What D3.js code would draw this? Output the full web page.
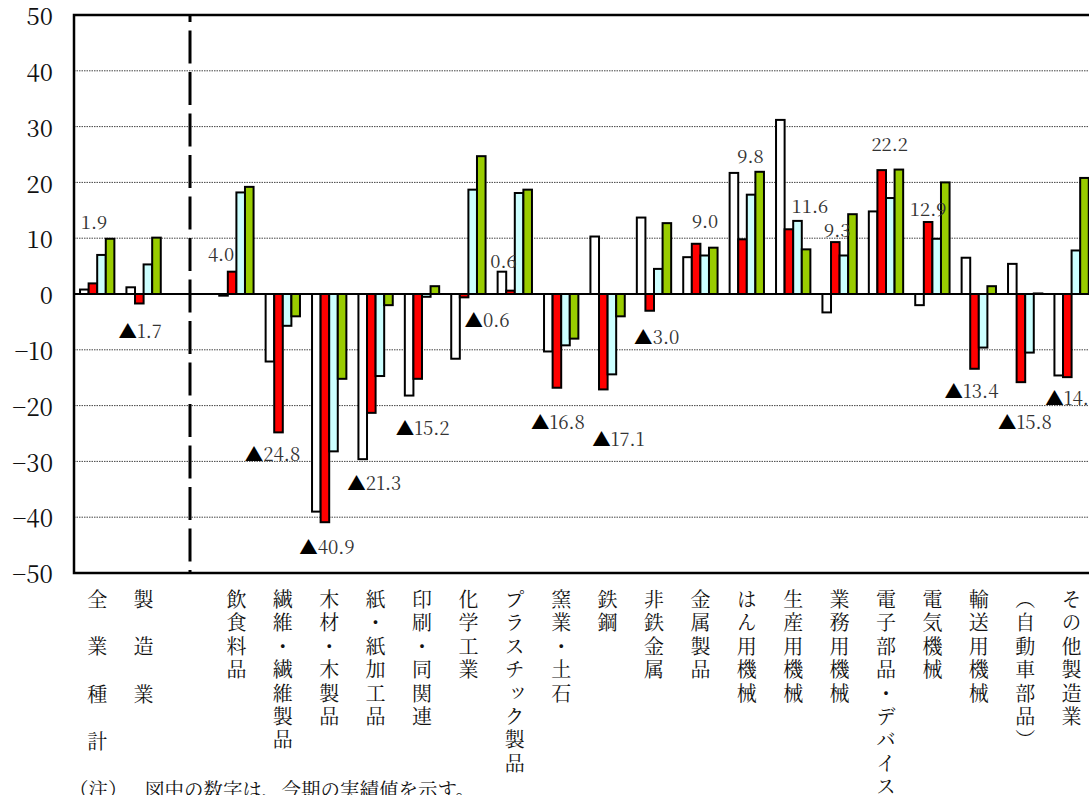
<!DOCTYPE html>
<html>
<head>
<meta charset="utf-8">
<script src="https://cdn.jsdelivr.net/npm/d3@7"></script>
<style>
  body { margin: 0; background: #fff; }
  svg { display: block; }
  .mincho { font-family: "Noto Serif CJK JP", "Liberation Serif", serif; }
</style>
</head>
<body>
<svg id="chart" width="1089" height="795"></svg>
<script>
// Industry categories (manufacturing breakdown follows the two totals)
const categories = [
  "全業種計", "製造業", "飲食料品", "繊維・繊維製品", "木材・木製品", "紙・紙加工品",
  "印刷・同関連", "化学工業", "プラスチック製品", "窯業・土石", "鉄鋼", "非鉄金属",
  "金属製品", "はん用機械", "生産用機械", "業務用機械", "電子部品・デバイス",
  "電気機械", "輸送用機械", "（自動車部品）", "その他製造業"
];

// Four series per category (%)
const previousResults = [0.8, 1.2, -0.3, -12.1, -39.0, -29.6, -18.2, -11.6, 4.0, -10.3, 10.3,
  13.7, 6.6, 21.7, 31.2, -3.3, 14.8, -2.0, 6.5, 5.4, -14.6];
const currentResults = [1.9, -1.7, 4.0, -24.8, -40.9, -21.3, -15.2, -0.6, 0.6, -16.8, -17.1,
  -3.0, 9.0, 9.8, 11.6, 9.3, 22.2, 12.9, -13.4, -15.8, -14.9];
const nextForecast = [7.0, 5.3, 18.2, -5.7, -28.2, -14.7, -0.5, 18.7, 18.1, -9.2, -14.4,
  4.5, 6.9, 17.8, 13.1, 6.9, 17.2, 9.9, -9.6, -10.5, 7.8];
const laterForecast = [9.9, 10.1, 19.2, -4.0, -15.2, -2.0, 1.4, 24.7, 18.7, -8.0, -4.0,
  12.7, 8.3, 21.9, 8.0, 14.3, 22.3, 20.0, 1.4, 0.1, 20.8];

const yTickValues = [50, 40, 30, 20, 10, 0, -10, -20, -30, -40, -50];
const noteLabel = "（注）";
const noteText = "図中の数字は、今期の実績値を示す。";

// ---- layout & styling ----
const seriesList = [
  { key: "prev", values: previousResults, fill: "#ffffff" },
  { key: "curr", values: currentResults, fill: "#ff0000" },
  { key: "next", values: nextForecast, fill: "#ccffff" },
  { key: "later", values: laterForecast, fill: "#99cc00" }
];

// hand-placed label nudges (px) relative to the end of each red bar
const labelNudges = [
  [1, -61], [1, 28], [-11, -17], [-6, 22], [2, 25], [3, 70], [5, 50], [23, 23],
  [-7, -29], [1, 35], [15, 50], [7, 27], [9, -22], [8, -83], [21, -23], [2, -12],
  [8, -26], [0, -13], [-3, 23], [4, 40], [5, 21]
];

const plotLeft = 74, plotTop = 15, plotBottom = 573;
const slot = 46.4;
const gapKey = "__gap__";
const domain = [categories[0], categories[1], gapKey, ...categories.slice(2)];
const plotRight = plotLeft + slot * domain.length;

const svg = d3.select("#chart");

const x = d3.scaleBand()
  .domain(domain)
  .range([plotLeft, plotRight])
  .paddingInner(0.26)
  .paddingOuter(0.13);

const xs = d3.scaleBand()
  .domain(seriesList.map(s => s.key))
  .range([0, x.bandwidth()]);

const y = d3.scaleLinear().domain([-50, 50]).range([plotBottom, plotTop]);

// gridlines (dotted)
svg.append("g")
  .selectAll("line")
  .data(yTickValues.filter(v => v !== 0 && v !== 50 && v !== -50))
  .join("line")
  .attr("x1", plotLeft).attr("x2", plotRight)
  .attr("y1", d => y(d)).attr("y2", d => y(d))
  .attr("stroke", "#444")
  .attr("stroke-width", 1)
  .attr("stroke-dasharray", "1.5,1");

// y axis tick labels
const yAxis = d3.axisLeft(y).tickValues(yTickValues)
  .tickSize(0).tickPadding(0)
  .tickFormat(d => d < 0 ? "\u2212" + Math.abs(d) : String(d));
const yg = svg.append("g").attr("transform", "translate(53,0)").call(yAxis);
yg.select(".domain").remove();
yg.attr("font-family", null).attr("font-size", null);
yg.selectAll("text")
  .attr("class", "mincho")
  .style("font-size", "24px")
  .attr("fill", "#111")
  .attr("dy", "0.36em")
  .attr("y", 1);

// separator between totals and the industry breakdown
svg.append("line")
  .attr("x1", x(gapKey) + x.bandwidth() / 2)
  .attr("x2", x(gapKey) + x.bandwidth() / 2)
  .attr("y1", plotTop).attr("y2", plotBottom)
  .attr("stroke", "#000")
  .attr("stroke-width", 3)
  .attr("stroke-dasharray", "33,8.5")
  .attr("stroke-dashoffset", 26);

// bars
const groups = svg.append("g")
  .selectAll("g")
  .data(categories)
  .join("g")
  .attr("transform", d => `translate(${x(d)},0)`);

groups.selectAll("rect")
  .data((d, i) => seriesList.map(s => ({ key: s.key, fill: s.fill, v: s.values[i] })))
  .join("rect")
  .attr("x", d => xs(d.key))
  .attr("width", xs.bandwidth())
  .attr("y", d => y(Math.max(0, d.v)))
  .attr("height", d => Math.abs(y(d.v) - y(0)))
  .attr("fill", d => d.fill)
  .attr("stroke", "#000")
  .attr("stroke-width", 2);

// zero line
svg.append("line")
  .attr("x1", plotLeft).attr("x2", plotRight)
  .attr("y1", y(0)).attr("y2", y(0))
  .attr("stroke", "#000").attr("stroke-width", 2);

// frame
svg.append("rect")
  .attr("x", plotLeft).attr("y", plotTop)
  .attr("width", plotRight - plotLeft).attr("height", plotBottom - plotTop)
  .attr("fill", "none").attr("stroke", "#000").attr("stroke-width", 2.5);

// value labels on the current-period bars (▲ marks a negative value)
const valueLabels = svg.append("g")
  .selectAll("text")
  .data(categories)
  .join("text")
  .attr("class", "mincho")
  .attr("x", (d, i) => x(d) + xs("curr") + xs.bandwidth() / 2 + labelNudges[i][0])
  .attr("y", (d, i) => y(currentResults[i]) + labelNudges[i][1])
  .attr("dy", "0.36em")
  .attr("text-anchor", "middle")
  .style("font-size", "18.5px")
  .attr("fill", "#333");
valueLabels.each(function (d, i) {
  const v = currentResults[i];
  const t = d3.select(this);
  if (v < 0) t.append("tspan").attr("fill", "#000").text("▲");
  t.append("tspan").text(Math.abs(v).toFixed(1));
});

// vertical category labels
const spread = { "全業種計": 27.3, "製造業": 27.3 };
svg.append("g")
  .selectAll("text")
  .data(categories)
  .join("text")
  .attr("class", "mincho")
  .attr("x", d => x(d) + x.bandwidth() / 2)
  .attr("y", 589.5)
  .style("font-size", "20px")
  .attr("fill", "#111")
  .style("writing-mode", "vertical-rl")
  .style("text-orientation", "upright")
  .style("letter-spacing", d => (spread[d] || 3.4) + "px")
  .text(d => d);

// footnote
svg.append("text")
  .attr("class", "mincho")
  .attr("x", 69).attr("y", 797)
  .style("font-size", "19.5px").attr("fill", "#111")
  .text(noteLabel);
svg.append("text")
  .attr("class", "mincho")
  .attr("x", 145).attr("y", 797)
  .style("font-size", "19.5px").attr("fill", "#111")
  .text(noteText);
</script>
</body>
</html>
